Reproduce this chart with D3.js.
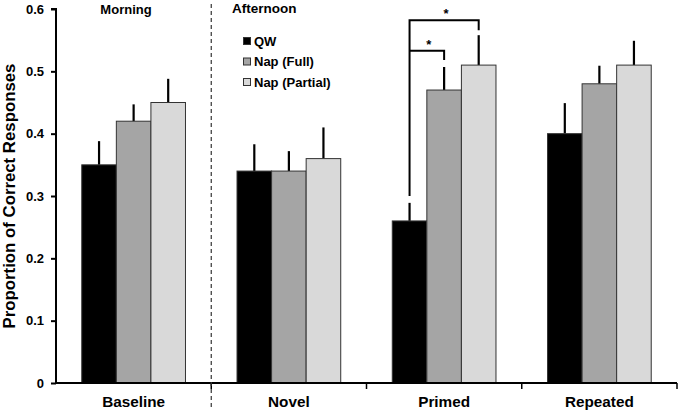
<!DOCTYPE html>
<html><head><meta charset="utf-8">
<script src="https://cdn.jsdelivr.net/npm/d3@7"></script>
<style>body{margin:0;background:#fff}svg{display:block}text{font-family:"Liberation Sans",Arial,sans-serif;font-weight:bold}</style>
</head><body><svg id="c" width="680" height="413"></svg>
<script>
const categories = ["Baseline", "Novel", "Primed", "Repeated"];
const seriesNames = ["QW", "Nap (Full)", "Nap (Partial)"];
const qwValues = [0.35, 0.34, 0.26, 0.40];
const napFullValues = [0.42, 0.34, 0.47, 0.48];
const napPartialValues = [0.45, 0.36, 0.51, 0.51];
const qwErrors = [0.038, 0.043, 0.029, 0.049];
const napFullErrors = [0.027, 0.032, 0.037, 0.029];
const napPartialErrors = [0.038, 0.05, 0.048, 0.039];
const yTicks = [0, 0.1, 0.2, 0.3, 0.4, 0.5, 0.6];
const colors = ["#000000", "#a5a5a5", "#d9d9d9"];

const values = [qwValues, napFullValues, napPartialValues];
const errors = [qwErrors, napFullErrors, napPartialErrors];

const svg = d3.select("#c");
const m = {l: 56, r: 3, t: 9, b: 30};
const W = 680, H = 413;
const x0 = d3.scaleBand().domain(categories).range([m.l, W - m.r]).paddingInner(0).paddingOuter(0);
const inner = 0.668;
const x1 = d3.scaleBand().domain(seriesNames).range([0, x0.bandwidth() * inner]);
const off = x0.bandwidth() * (1 - inner) / 2;
const y = d3.scaleLinear().domain([0, 0.6]).range([H - m.b, m.t]);

// bars
categories.forEach((c, ci) => {
  seriesNames.forEach((s, si) => {
    const bx = x0(c) + off + x1(s);
    const v = values[si][ci];
    const e = errors[si][ci];
    svg.append("line").attr("x1", bx + x1.bandwidth()/2).attr("x2", bx + x1.bandwidth()/2)
      .attr("y1", y(v)).attr("y2", y(v + e)).attr("stroke", "#000").attr("stroke-width", 2.2);
    svg.append("rect").attr("x", bx).attr("width", x1.bandwidth())
      .attr("y", y(v)).attr("height", y(0) - y(v))
      .attr("fill", colors[si]).attr("stroke", "#333").attr("stroke-width", 1);
  });
});

// y axis
const ya = svg.append("g").attr("transform", `translate(${m.l},0)`)
  .call(d3.axisLeft(y).tickValues(yTicks).tickFormat(d => d === 0 ? "0" : d3.format(".1f")(d)).tickSize(5).tickPadding(7));
ya.select(".domain").attr("stroke", "#000").attr("stroke-width", 2).attr("d", `M-5,${y(0.6)}H0V${y(0)}`);
ya.selectAll(".tick line").attr("stroke", "#000").attr("stroke-width", 2);
ya.selectAll(".tick text").attr("font-size", 13).attr("fill", "#000");

// x axis
const xa = svg.append("g").attr("transform", `translate(0,${y(0)})`)
  .call(d3.axisBottom(x0).tickSize(0).tickPadding(13));
xa.select(".domain").attr("stroke", "#000").attr("stroke-width", 2).attr("d", `M${m.l},0H${W - m.r}`);
xa.selectAll(".tick text").attr("font-size", 15.3).attr("fill", "#000");
const bounds = categories.map(c => x0(c)).concat([x0(categories[3]) + x0.bandwidth()]);
bounds.slice(1).forEach(b => {
  xa.append("line").attr("x1", b).attr("x2", b).attr("y1", 0).attr("y2", 6).attr("stroke", "#000").attr("stroke-width", 1.5);
});

// divider
const dx = x0(categories[1]);
svg.append("line").attr("x1", dx).attr("x2", dx).attr("y1", 4).attr("y2", 408)
  .attr("stroke", "#333").attr("stroke-width", 1.2).attr("stroke-dasharray", "4,3");

// axis title
svg.append("text").attr("transform", `translate(15,${(y(0)+y(0.6))/2}) rotate(-90)`)
  .attr("text-anchor", "middle").attr("font-size", 16.8).attr("fill", "#000").text("Proportion of Correct Responses");

// section labels
svg.append("text").attr("x", 126).attr("y", 13.5).attr("text-anchor", "middle")
  .attr("font-size", 13).text("Morning");
svg.append("text").attr("x", 232).attr("y", 12.5).attr("font-size", 13.5).text("Afternoon");

// legend
seriesNames.forEach((s, i) => {
  const ly = 41 + i * 20.5;
  svg.append("rect").attr("x", 243.5).attr("y", ly - 3.5).attr("width", 7).attr("height", 7)
    .attr("fill", colors[i]).attr("stroke", "#333").attr("stroke-width", 1);
  svg.append("text").attr("x", 254).attr("y", ly + 4.5).attr("font-size", 13).attr("fill", "#000").text(s);
});

// significance brackets (Primed)
const pc = categories[2];
const cx = si => x0(pc) + off + x1(seriesNames[si]) + x1.bandwidth()/2;
const yb1 = y(0.582), yb2 = y(0.533);
const bracket = d3.line();
svg.append("path").attr("d", bracket([[cx(0), y(0.30)], [cx(0), yb1], [cx(2), yb1], [cx(2), y(0.566)]]))
  .attr("fill", "none").attr("stroke", "#000").attr("stroke-width", 2);
svg.append("path").attr("d", bracket([[cx(0), yb2], [cx(1), yb2], [cx(1), y(0.518)]]))
  .attr("fill", "none").attr("stroke", "#000").attr("stroke-width", 2);
svg.append("text").attr("x", (cx(0) + cx(2))/2 + 2).attr("y", yb1 - 2).attr("text-anchor", "middle").attr("font-size", 13).text("*");
svg.append("text").attr("x", (cx(0) + cx(1))/2 + 2).attr("y", yb2 - 2).attr("text-anchor", "middle").attr("font-size", 13).text("*");
</script></body></html>
